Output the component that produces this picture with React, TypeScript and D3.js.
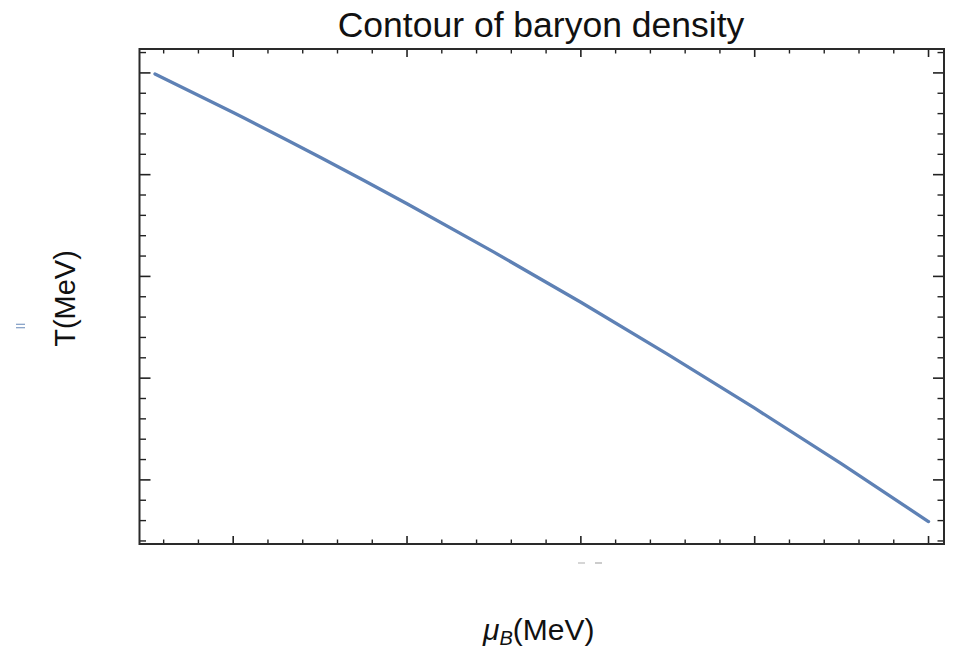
import React from "react";
import * as d3 from "d3";

const muB = [55, 100, 150, 200, 250, 300, 350, 400, 450, 500];
const temp = [179.8, 172.21, 163.42, 154.28, 144.77, 134.91, 124.68, 114.09, 103.13, 91.8];
const xMajor = [100, 200, 300, 400, 500];
const yMajor = [100, 120, 140, 160, 180];
const xDomain = [46.1, 508.9];
const yDomain = [87.4, 184.7];
const title = "Contour of baryon density";

const W = 960, H = 647;
const L = 139.5, R = 944, T = 49, B = 544;

export default function App() {
  const x = d3.scaleLinear().domain(xDomain).range([L, R]);
  const y = d3.scaleLinear().domain(yDomain).range([B, T]);
  const xMinor = d3.range(40, 520, 20).filter(v => v >= xDomain[0] && v <= xDomain[1] && !xMajor.includes(v));
  const yMinor = d3.range(84, 188, 4).filter(v => v >= yDomain[0] && v <= yDomain[1] && !yMajor.includes(v));
  const pts = muB.map((m, i) => [m, temp[i]] as [number, number]);
  const line = d3.line<[number, number]>().x(d => x(d[0])).y(d => y(d[1])).curve(d3.curveMonotoneX);
  const tc = "#222";
  return (
    <svg width={W} height={H} style={{ position: "absolute", left: 0, top: 0, background: "#fff" }}
      fontFamily="'Liberation Sans', Arial, sans-serif">
      <rect x={0} y={0} width={W} height={H} fill="#fff" />
      <path d={line(pts) || ""} fill="none" stroke="#5E81B5" strokeWidth={3.3} strokeLinecap="round" />
      {xMajor.map(v => (
        <g key={"xm" + v}>
          <line x1={x(v)} x2={x(v)} y1={B} y2={B - 8} stroke={tc} strokeWidth={1.6} />
          <line x1={x(v)} x2={x(v)} y1={T} y2={T + 8} stroke={tc} strokeWidth={1.6} />
        </g>
      ))}
      {xMinor.map(v => (
        <g key={"xn" + v}>
          <line x1={x(v)} x2={x(v)} y1={B} y2={B - 4.5} stroke={tc} strokeWidth={1.4} />
          <line x1={x(v)} x2={x(v)} y1={T} y2={T + 4.5} stroke={tc} strokeWidth={1.4} />
        </g>
      ))}
      {yMajor.map(v => (
        <g key={"ym" + v}>
          <line x1={L} x2={L + 11} y1={y(v)} y2={y(v)} stroke={tc} strokeWidth={1.6} />
          <line x1={R} x2={R - 11} y1={y(v)} y2={y(v)} stroke={tc} strokeWidth={1.6} />
        </g>
      ))}
      {yMinor.map(v => (
        <g key={"yn" + v}>
          <line x1={L} x2={L + 6.5} y1={y(v)} y2={y(v)} stroke={tc} strokeWidth={1.4} />
          <line x1={R} x2={R - 6.5} y1={y(v)} y2={y(v)} stroke={tc} strokeWidth={1.4} />
        </g>
      ))}
      <rect x={L} y={T} width={R - L} height={B - T} fill="none" stroke="#2a2a2a" strokeWidth={2} />
      <text x={541} y={37} textAnchor="middle" fontSize={35.5} fill="#111">{title}</text>
      <text transform={`translate(75,298.5) rotate(-90)`} textAnchor="middle" fontSize={29} fill="#111">T(MeV)</text>
      <text x={483} y={640} fontSize={30} fill="#111">
        <tspan fontStyle="italic">μ</tspan>
        <tspan fontStyle="italic" fontSize={20} dy={4.5}>B</tspan>
        <tspan dy={-4.5}>(MeV)</tspan>
      </text>
      <line x1={16} x2={25} y1={324.3} y2={324.3} stroke="#7F9CC4" strokeWidth={1.2} />
      <line x1={16} x2={25} y1={327.7} y2={327.7} stroke="#7F9CC4" strokeWidth={1.2} />
      <line x1={578} x2={585} y1={563} y2={563} stroke="#bbb" strokeWidth={1.2} />
      <line x1={595} x2={602} y1={563} y2={563} stroke="#aaa" strokeWidth={1.2} />
    </svg>
  );
}
